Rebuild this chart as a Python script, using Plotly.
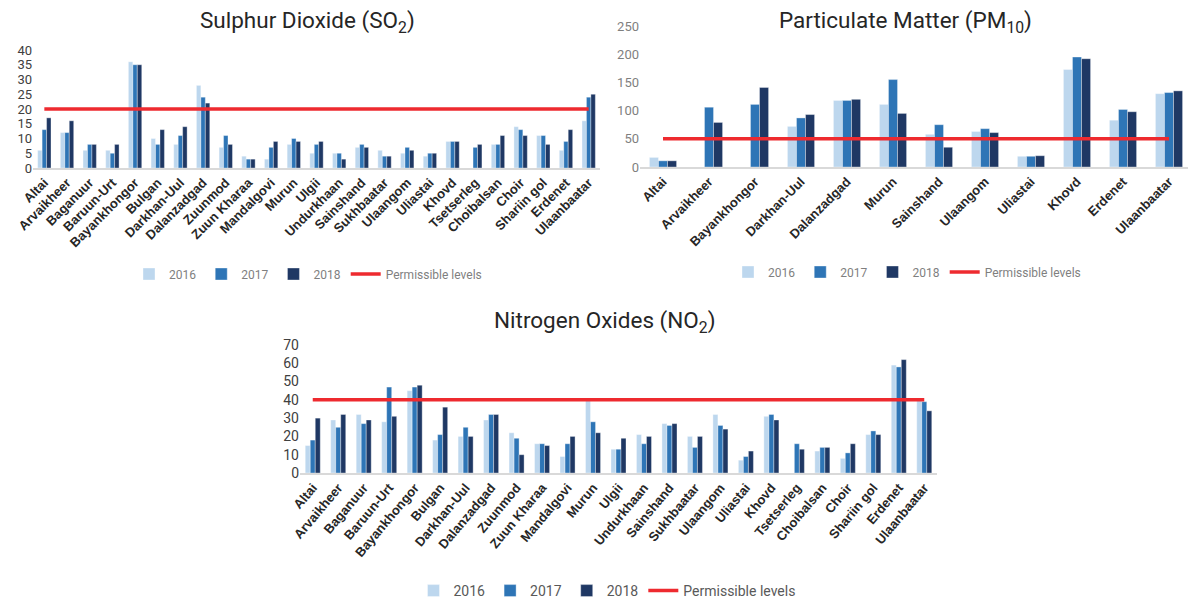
import plotly.graph_objects as go

# ---------------- data ----------------
cities = ["Altai", "Arvaikheer", "Baganuur", "Baruun-Urt", "Bayankhongor", "Bulgan",
          "Darkhan-Uul", "Dalanzadgad", "Zuunmod", "Zuun Kharaa", "Mandalgovi", "Murun",
          "Ulgii", "Undurkhaan", "Sainshand", "Sukhbaatar", "Ulaangom", "Uliastai",
          "Khovd", "Tsetserleg", "Choibalsan", "Choir", "Shariin gol", "Erdenet",
          "Ulaanbaatar"]

so2_2016 = [6, 12, 6, 6, 36, 10, 8, 28, 7, 4, 3, 8, 5, 5, 7, 6, 5, 4, 9, None, 8, 14, 11, 6, 16]
so2_2017 = [13, 12, 8, 5, 35, 8, 11, 24, 11, 3, 7, 10, 8, 5, 8, 4, 7, 5, 9, 7, 8, 13, 11, 9, 24]
so2_2018 = [17, 16, 8, 8, 35, 13, 14, 22, 8, 3, 9, 9, 9, 3, 7, 4, 6, 5, 9, 8, 11, 11, 8, 13, 25]
so2_limit = [20] * len(cities)

pm_cities = ["Altai", "Arvaikheer", "Bayankhongor", "Darkhan-Uul", "Dalanzadgad", "Murun",
             "Sainshand", "Ulaangom", "Uliastai", "Khovd", "Erdenet", "Ulaanbaatar"]
pm_2016 = [17, None, None, 72, 118, 111, 58, 63, 19, 173, 83, 130]
pm_2017 = [11, 106, 111, 87, 118, 155, 75, 68, 19, 195, 102, 132]
pm_2018 = [11, 79, 141, 93, 120, 95, 35, 61, 20, 192, 98, 135]
pm_limit = [50] * len(pm_cities)

no2_2016 = [15, 29, 32, 28, 45, 18, 20, 29, 22, 16, 9, 40, 13, 21, 27, 20, 32, 7, 31, None, 12, 8, 21, 59, 40]
no2_2017 = [18, 25, 27, 47, 47, 21, 25, 32, 19, 16, 16, 28, 13, 16, 26, 14, 26, 9, 32, 16, 14, 11, 23, 58, 39]
no2_2018 = [30, 32, 29, 31, 48, 36, 20, 32, 10, 15, 20, 22, 19, 20, 27, 20, 24, 12, 29, 13, 14, 16, 21, 62, 34]
no2_limit = [40] * len(cities)

years = ["2016", "2017", "2018"]
limit_name = "Permissible levels"

# ---------------- styles ----------------
C16, C17, C18 = "#BDD7EE", "#2E75B6", "#1F3864"
RED = "#EE2A2F"
LBL_FONT = dict(family="Liberation Sans, Arial", size=13, color="#262626", weight="bold")
LEG_FONT = dict(family="Roboto, Arial", size=12, color="#7F7F7F")
LEG_FONT3 = dict(family="Roboto, Arial", size=14, color="#595959")

fig = go.Figure()


def add_panel(cats, s16, s17, s18, lim, xa, ya, leg):
    for name, vals, col in zip(years, [s16, s17, s18], [C16, C17, C18]):
        fig.add_trace(go.Bar(x=cats, y=vals, name=name, marker_color=col,
                             marker_line=dict(color="rgba(255,255,255,0.6)", width=0.6),
                             xaxis=xa, yaxis=ya, legend=leg))
    fig.add_trace(go.Scatter(x=cats, y=lim, name=limit_name, mode="lines",
                             line=dict(color=RED, width=3.5), xaxis=xa, yaxis=ya,
                             legend=leg))


add_panel(cities, so2_2016, so2_2017, so2_2018, so2_limit, "x", "y", "legend")
add_panel(pm_cities, pm_2016, pm_2017, pm_2018, pm_limit, "x2", "y2", "legend2")
add_panel(cities, no2_2016, no2_2017, no2_2018, no2_limit, "x3", "y3", "legend3")

# page body adds an 8px margin around the figure
OFF = 8
W, H = 1196 - OFF, 604 - OFF


def px_x(a, b):
    return [(a - OFF) / W, (b - OFF) / W]


def px_y(top, bottom):
    return [(H - (bottom - OFF)) / H, (H - (top - OFF)) / H]


def fx(a):
    return (a - OFF) / W


def fy(a):
    return (H - (a - OFF)) / H


xcommon = dict(showline=True, linecolor="#D9D9D9", linewidth=2, ticks="",
               tickfont=LBL_FONT, showgrid=False, zeroline=False, fixedrange=True,
               automargin=False)
ycommon = dict(showline=False, showgrid=False, zeroline=False, ticks="", fixedrange=True,
               automargin=False)

fig.update_layout(
    width=W, height=H,
    margin=dict(l=0, r=0, t=0, b=0, autoexpand=False),
    paper_bgcolor="white", plot_bgcolor="white",
    barmode="group", bargap=0.41, bargroupgap=0,
    font=dict(family="Roboto, Arial", color="#404040"),
    xaxis=dict(domain=px_x(33, 600), anchor="y", tickangle=-45, **xcommon),
    yaxis=dict(domain=px_y(50, 168), anchor="x", range=[0, 40], dtick=5,
               tickfont=dict(family="Roboto, Arial", size=13, color="#404040"), **ycommon),
    xaxis2=dict(domain=px_x(640, 1192), anchor="y2", tickangle=-45, **xcommon),
    yaxis2=dict(domain=px_y(26, 167), anchor="x2", range=[0, 250], dtick=50,
                tickfont=dict(family="Roboto, Arial", size=13, color="#7F7F7F"), **ycommon),
    xaxis3=dict(domain=px_x(300, 937), anchor="y3", tickangle=-50, **xcommon),
    yaxis3=dict(domain=px_y(345, 473), anchor="x3", range=[0, 70], dtick=10,
                tickfont=dict(family="Roboto, Arial", size=14, color="#404040"), **ycommon),
    legend=dict(orientation="h", x=fx(308), xanchor="center", y=fy(274), yanchor="middle",
                font=LEG_FONT, bgcolor="rgba(0,0,0,0)", itemwidth=30),
    legend2=dict(orientation="h", x=fx(907), xanchor="center", y=fy(272), yanchor="middle",
                 font=LEG_FONT, bgcolor="rgba(0,0,0,0)", itemwidth=30),
    legend3=dict(orientation="h", x=fx(607), xanchor="center", y=fy(591), yanchor="middle",
                 font=LEG_FONT3, bgcolor="rgba(0,0,0,0)", itemwidth=30),
    annotations=[
        dict(text="Sulphur Dioxide (SO<sub>2</sub>)", x=fx(307), y=fy(22),
             xref="paper", yref="paper", showarrow=False, xanchor="center", yanchor="middle",
             font=dict(family="Roboto, Arial", size=22.5, color="#262626")),
        dict(text="Particulate Matter (PM<sub>10</sub>)", x=fx(905), y=fy(22),
             xref="paper", yref="paper", showarrow=False, xanchor="center", yanchor="middle",
             font=dict(family="Roboto, Arial", size=22.5, color="#262626")),
        dict(text="Nitrogen Oxides (NO<sub>2</sub>)", x=fx(605), y=fy(322),
             xref="paper", yref="paper", showarrow=False, xanchor="center", yanchor="middle",
             font=dict(family="Roboto, Arial", size=22.5, color="#262626")),
    ],
)

fig.write_html("out.html")
